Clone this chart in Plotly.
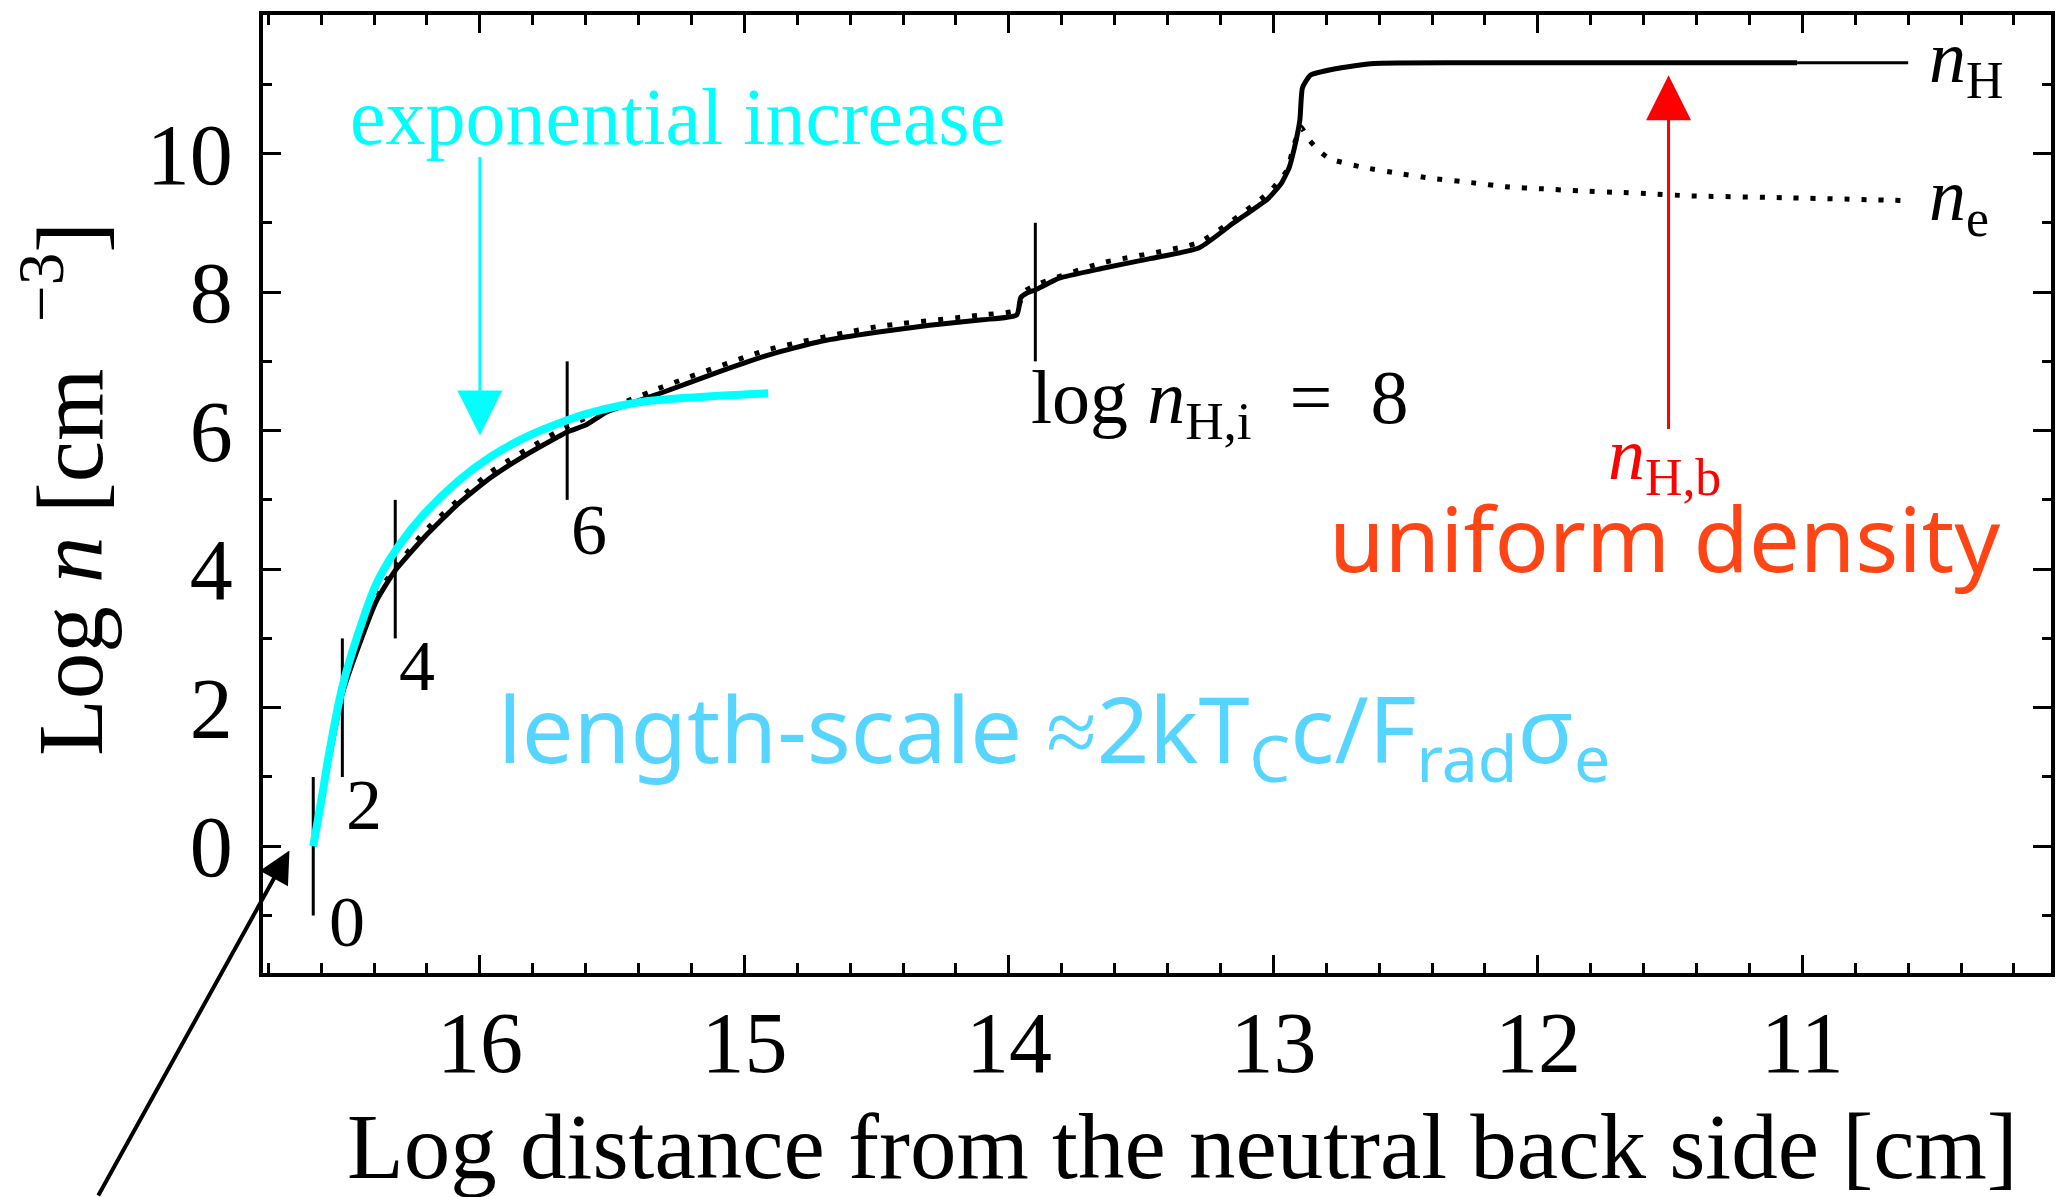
import plotly.graph_objects as go

# ---------------- data ----------------
# hydrogen density profile: log distance from the neutral back side [cm] vs log n_H [cm^-3]
log_d_nH = [16.63, 16.60, 16.57, 16.52, 16.46, 16.39, 16.32, 16.21, 16.08, 15.96,
            15.83, 15.67, 15.60, 15.52, 15.31, 15.11, 14.91, 14.71, 14.50, 14.30,
            14.10, 13.97, 13.955, 13.93, 13.90, 13.81, 13.65, 13.47, 13.28, 13.15,
            13.02, 12.97, 12.94, 12.92, 12.90, 12.89, 12.86, 12.77, 12.62, 12.27,
            11.70, 11.02]
log_nH = [0.00, 0.62, 1.25, 2.20, 2.87, 3.55, 3.98, 4.46, 4.95, 5.32,
          5.64, 5.98, 6.08, 6.27, 6.55, 6.83, 7.09, 7.29, 7.42, 7.52,
          7.60, 7.67, 7.92, 7.99, 8.03, 8.20, 8.34, 8.48, 8.64, 9.00,
          9.35, 9.57, 9.80, 10.09, 10.48, 10.95, 11.13, 11.22, 11.30, 11.31,
          11.31, 11.31]

# the deepest model continues a little further into the back side
log_d_nH_tail = [11.02, 10.60]
log_nH_tail = [11.31, 11.31]

# electron density profile
log_d_ne = [16.63, 16.52, 16.39, 16.21, 15.96, 15.67, 15.31, 14.91, 14.50, 14.10,
            13.97, 13.945, 13.90, 13.65, 13.28, 13.02, 12.95, 12.92, 12.895, 12.87,
            12.84, 12.79, 12.66, 12.52, 12.40, 12.25, 12.12, 11.98, 11.84, 11.70,
            11.58, 11.43, 11.04, 10.60]
log_ne = [0.07, 2.27, 3.63, 4.54, 5.40, 6.06, 6.63, 7.17, 7.50, 7.67,
          7.74, 8.00, 8.10, 8.42, 8.72, 9.43, 9.75, 10.15, 10.38, 10.22,
          10.09, 9.93, 9.80, 9.71, 9.64, 9.58, 9.52, 9.49, 9.46, 9.44,
          9.42, 9.39, 9.36, 9.32]

# exponential fit to the ionised layer
log_d_fit = [16.63, 16.60, 16.57, 16.52, 16.46, 16.39, 16.31, 16.21, 16.08, 15.96,
             15.83, 15.67, 15.58, 15.38, 15.11, 14.91]
log_n_fit = [0.00, 0.65, 1.34, 2.30, 3.07, 3.80, 4.32, 4.80, 5.28, 5.62,
             5.90, 6.15, 6.26, 6.42, 6.50, 6.54]

# starting points of the models with initial density log n_H,i
start_log_d = [16.63, 16.52, 16.32, 15.67, 13.90]
start_log_nHi = [0, 2, 4, 6, 8]
start_labels = ["0", "2", "4", "6"]

x_ticks = [16, 15, 14, 13, 12, 11]
y_ticks = [0, 2, 4, 6, 8, 10]

# ---------------- styling ----------------
SERIF = "Liberation Serif"
CYAN = "#00FFFF"
RED = "#FF0000"
ORANGE = "#FF4515"
SKY = "#55D5FF"

fig = go.Figure()

# vertical bars marking each model's starting density
bar_x, bar_y = [], []
for d, n in zip(start_log_d, start_log_nHi):
    bar_x += [d, d, None]
    bar_y += [n - 1, n + 1, None]
fig.add_trace(go.Scatter(x=bar_x, y=bar_y, mode="lines",
                         line=dict(color="black", width=3), hoverinfo="skip"))

fig.add_trace(go.Scatter(x=log_d_ne, y=log_ne, mode="lines", name="n_e",
                         line=dict(color="black", width=5, dash="5px,12px",
                                   shape="spline", smoothing=0.5)))
fig.add_trace(go.Scatter(x=log_d_nH, y=log_nH, mode="lines", name="n_H",
                         line=dict(color="black", width=5, shape="spline", smoothing=0.5)))
fig.add_trace(go.Scatter(x=log_d_nH_tail, y=log_nH_tail, mode="lines",
                         line=dict(color="black", width=3)))
fig.add_trace(go.Scatter(x=log_d_fit, y=log_n_fit, mode="lines",
                         line=dict(color=CYAN, width=8, shape="spline", smoothing=0.8)))

annotations = []

# labels under the starting bars
label_shift = [(14, 36), (2, 14), (2, 14), (2, 12)]
for d, n, txt, (dx, dy) in zip(start_log_d, start_log_nHi, start_labels, label_shift):
    annotations.append(dict(x=d, y=n - 1, text=txt, showarrow=False,
                            xanchor="left", yanchor="top", xshift=dx, yshift=dy,
                            font=dict(family=SERIF, size=72, color="black")))
annotations.append(dict(x=start_log_d[-1], y=start_log_nHi[-1] - 1,
                        text="log <i>n</i><sub>H,i</sub>  =  8", showarrow=False,
                        xanchor="left", yanchor="top", xshift=-6, yshift=8,
                        font=dict(family=SERIF, size=76, color="black")))

# curve labels
annotations.append(dict(x=10.53, y=11.31, text="<i>n</i><sub>H</sub>", showarrow=False,
                        xanchor="left", yanchor="middle",
                        font=dict(family=SERIF, size=74, color="black")))
annotations.append(dict(x=10.53, y=9.32, text="<i>n</i><sub>e</sub>", showarrow=False,
                        xanchor="left", yanchor="middle",
                        font=dict(family=SERIF, size=74, color="black")))

# exponential increase
annotations.append(dict(x=16.50, y=10.53, text="exponential increase", showarrow=False,
                        xanchor="left", yanchor="middle",
                        font=dict(family=SERIF, size=80, color=CYAN)))
annotations.append(dict(x=16.0, y=5.93, ax=16.0, ay=9.97, axref="x", ayref="y",
                        text="", showarrow=True, arrowhead=2, arrowsize=3.0,
                        arrowwidth=3, arrowcolor=CYAN))

# boundary density
annotations.append(dict(x=11.506, y=11.13, ax=11.506, ay=6.0, axref="x", ayref="y",
                        text="", showarrow=True, arrowhead=2, arrowsize=3.0,
                        arrowwidth=3, arrowcolor=RED))
annotations.append(dict(x=11.52, y=5.58, text="<i>n</i><sub>H,b</sub>", showarrow=False,
                        xanchor="center", yanchor="middle",
                        font=dict(family=SERIF, size=74, color=RED)))
annotations.append(dict(x=11.52, y=4.47, text="uniform density", showarrow=False,
                        xanchor="center", yanchor="middle",
                        font=dict(family="Noto Sans", size=90, color=ORANGE)))

annotations.append(dict(x=15.94, y=1.63,
                        text="length-scale ≈2kT<sub>C</sub>c/F<sub>rad</sub>σ<sub>e</sub>",
                        showarrow=False, xanchor="left", yanchor="middle",
                        font=dict(family="Noto Sans", size=92, color=SKY)))

# pointer to the illuminated face
annotations.append(dict(x=16.72, y=-0.06, ax=-192, ay=347, text="", showarrow=True,
                        arrowhead=2, arrowsize=1.6, arrowwidth=4, arrowcolor="black"))

# axis titles
annotations.append(dict(xref="paper", yref="paper", x=0.514, y=-0.181,
                        text="Log distance from the neutral back side [cm]",
                        showarrow=False, xanchor="center", yanchor="middle",
                        font=dict(family=SERIF, size=93, color="black")))
annotations.append(dict(xref="paper", yref="paper", x=-0.112, y=0.505,
                        text="Log <i>n</i> [cm  <sup>−3</sup>]", textangle=-90,
                        showarrow=False, xanchor="center", yanchor="middle",
                        font=dict(family=SERIF, size=93, color="black")))

axis_common = dict(showline=True, linewidth=4, linecolor="black", mirror="allticks",
                   ticks="inside", tickwidth=3, tickcolor="black",
                   showgrid=False, zeroline=False)

fig.update_xaxes(range=[16.82, 10.06], tickvals=x_ticks, ticklen=18,
                 minor=dict(dtick=0.2, tick0=0, ticks="inside", ticklen=10,
                            tickwidth=3, tickcolor="black", showgrid=False),
                 tickfont=dict(family=SERIF, size=86, color="black"),
                 ticklabelstandoff=-8, **axis_common)
fig.update_yaxes(range=[-1.83, 12], tickvals=y_ticks, ticklen=18,
                 minor=dict(dtick=1, tick0=0, ticks="inside", ticklen=9,
                            tickwidth=3, tickcolor="black", showgrid=False),
                 tickfont=dict(family=SERIF, size=86, color="black"),
                 ticklabelstandoff=9, **axis_common)

fig.update_layout(width=2070, height=1197,
                  margin=dict(l=263, r=19, t=15, b=224),
                  paper_bgcolor="white", plot_bgcolor="white",
                  showlegend=False, annotations=annotations)

fig.write_html("out.html")
